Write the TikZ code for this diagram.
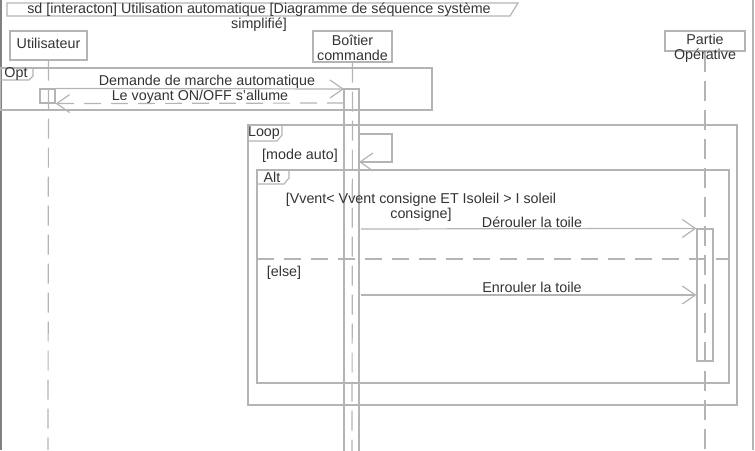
\documentclass[tikz,border=0pt]{standalone}
\usepackage{fontspec}
\setmainfont{Liberation Sans}
\usetikzlibrary{arrows.meta}
\definecolor{ln}{HTML}{B4B4B4}
\definecolor{tx}{HTML}{333333}
\definecolor{fr}{HTML}{808080}
\tikzset{
  txt/.style={inner sep=0pt, text=tx, font=\fontsize{14.3}{15}\selectfont, align=center},
  lbox/.style={draw=ln, line width=1.2pt, inner sep=0pt},
  lifel/.style={draw=ln, line width=1.2pt, dash pattern=on 20pt off 9pt},
  frm/.style={draw=ln, line width=1.2pt},
  msg/.style={draw=ln, line width=1.2pt, -{Straight Barb[length=13pt,width=18pt,line width=1.2pt]}},
  rmsg/.style={msg, dash pattern=on 17pt off 10pt},
  sep/.style={draw=ln, line width=1.2pt, dash pattern=on 17pt off 10pt},
}
\begin{document}
\begin{tikzpicture}[x=1pt,y=-1pt]
\useasboundingbox (0,0) rectangle (755,450);
% outer frame edges
\draw[fr, line width=1.5pt] (1,0) -- (1,450);
\draw[frm] (753,0) -- (753,450);
% title tab
\draw[frm] (7,3) -- (518,3) -- (510,16) -- (7,16) -- cycle;
\node[txt] (title) at (259,17.5) {sd [interacton] Utilisation automatique [Diagramme de séquence système\\simplifié]};
% lifelines heads
\node[lbox, minimum width=77pt, minimum height=29pt] (u) at (48.5,45.5) {};
\node[txt] (ut) at (48.5,43) {Utilisateur};
\node[lbox, minimum width=79pt, minimum height=31pt] (b) at (352.5,46.5) {};
\node[txt] (bt) at (352.5,48) {Boîtier\\commande};
\node[lbox, minimum width=80pt, minimum height=20pt] (p) at (705,41) {};
\node[txt] (pt) at (705,48) {Partie\\Opérative};
% lifelines
\coordinate (uend) at (48,450);
\coordinate (bend) at (352,452);
\coordinate (pend) at (705,450);
\draw[lifel] (u.south) -- (uend);
\draw[lifel] (b.south) -- (bend);
\draw[lifel] (p.south) -- (pend);
% Opt fragment
\draw[frm] (0,68) rectangle (432,110);
\draw[frm] (0,68) -- (33,68) -- (33,76) -- (29,80) -- (0,80);
\node[txt] (opt) at (16,74) {Opt};
% activations
\node[lbox, minimum width=15pt, minimum height=14pt] (ua) at (47.5,96) {};
\draw[frm] (344,456) -- (344,89) -- (359,89) -- (359,456);
\coordinate (ba1) at (344,89);
\coordinate (ba2) at (344,103);
\coordinate (bs1) at (359,134);
\coordinate (bs2) at (392,134);
\coordinate (bs3) at (392,162);
\coordinate (bs4) at (359,162);
\coordinate (bm1) at (361,229);
\coordinate (bm2) at (361,295);
\node[lbox, minimum width=16pt, minimum height=132pt] (pa) at (705,295) {};
% messages
\draw[msg] (ua.north east) -- (ba1);
\node[txt] (m1) at (207,82) {Demande de marche automatique};
\draw[rmsg] (ba2) -- (ua.south east);
\node[txt] (m2) at (200,97) {Le voyant ON/OFF s'allume};
% Loop fragment
\draw[frm] (248,125) rectangle (737,405);
\draw[frm] (248,125) -- (282,125) -- (282,135) -- (277,141) -- (248,141);
\node[txt] (loop) at (264,133) {Loop};
\node[txt] (guard1) at (300,156) {[mode auto]};
\draw[msg] (bs1) -- (bs2) -- (bs3) -- (bs4);
% Alt fragment
\draw[frm] (257,170) rectangle (729,383);
\draw[frm] (257,170) -- (289,170) -- (289,178) -- (284,184) -- (257,184);
\node[txt] (alt) at (272,177) {Alt};
\node[txt] (guard2) at (421,207.5) {[Vvent< Vvent consigne ET Isoleil > I soleil\\consigne]};
\draw[msg] (bm1) -- (pa.north west);
\node[txt] (m3) at (532,222) {Dérouler la toile};
\draw[sep] (257,259) -- (729,259);
\node[txt] (guard3) at (284,273) {[else]};
\draw[msg] (bm2) -- (pa.west);
\node[txt] (m4) at (532,287) {Enrouler la toile};
\end{tikzpicture}
\end{document}
